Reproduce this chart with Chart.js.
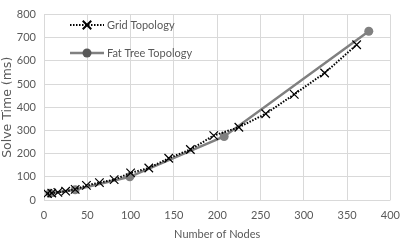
<!DOCTYPE html>
<html>
<head>
<meta charset="utf-8">
<script src="https://cdn.jsdelivr.net/npm/chart.js@4/dist/chart.umd.min.js"></script>
<style>
  html, body { margin: 0; padding: 0; background: #fff; }
  #wrap { width: 409px; height: 245px; position: relative; }
</style>
</head>
<body>
<div id="wrap"><canvas id="solve"></canvas></div>
<script>
// grid topology: n x n nodes
const grid_nodes = [4, 9, 16, 25, 36, 49, 64, 81, 100, 121, 144, 169, 196, 225, 256, 289, 324, 361]
const grid_time = [28, 30, 33, 38, 46, 63, 75, 88, 117, 138, 180, 218, 278, 314, 372, 456, 548, 670]

// fat tree topology
const fattree_nodes = [7, 36, 99, 208, 375]
const fattree_time = [29, 44, 100, 274, 728]

const x_ticks = [0, 50, 100, 150, 200, 250, 300, 350, 400]
const y_ticks = [0, 100, 200, 300, 400, 500, 600, 700, 800]

const FONT = 'Lato, "Open Sans", sans-serif'
const TEXT = '#595959'

// leyenda dibujada dentro del area del grafico
const innerLegend = {
    id: 'innerLegend',
    afterDraw(chart) {
        const ctx = chart.ctx
        const rows = [
            { y: 25, ds: chart.data.datasets[0] },
            { y: 53, ds: chart.data.datasets[1] }
        ]
        const x0 = 70, x1 = 104, xm = 87
        ctx.save()
        rows.forEach(r => {
            ctx.strokeStyle = r.ds.borderColor
            ctx.lineWidth = r.ds.borderWidth
            ctx.setLineDash(r.ds.borderDash || [])
            ctx.beginPath()
            ctx.moveTo(x0, r.y)
            ctx.lineTo(x1, r.y)
            ctx.stroke()
            ctx.setLineDash([])
            Chart.helpers.drawPoint(ctx, {
                pointStyle: r.ds.pointStyle,
                radius: r.ds.pointRadius,
                borderWidth: r.ds.pointBorderWidth
            }, xm, r.y)
            ctx.fillStyle = TEXT
            ctx.font = '11px ' + FONT
            ctx.textBaseline = 'middle'
            ctx.fillText(r.ds.label, x1 + 3, r.y)
        })
        ctx.restore()
    }
}

new Chart(document.getElementById('solve').getContext('2d'), {
    type: 'line',
    data: {
        datasets: [{
            label: 'Grid Topology',
            data: grid_nodes.map((n, i) => ({ x: n, y: grid_time[i] })),
            borderColor: '#000000',
            backgroundColor: '#000000',
            borderWidth: 2,
            borderDash: [1.5, 1.5],
            pointStyle: 'crossRot',
            pointRadius: 6,
            pointBorderWidth: 1.2,
            pointBorderColor: '#000000',
            tension: 0
        }, {
            label: 'Fat Tree Topology',
            data: fattree_nodes.map((n, i) => ({ x: n, y: fattree_time[i] })),
            borderColor: '#808080',
            backgroundColor: '#808080',
            borderWidth: 2.5,
            pointStyle: 'circle',
            pointRadius: 4.5,
            pointBorderWidth: 0,
            pointBorderColor: '#808080',
            tension: 0
        }]
    },
    options: {
        responsive: true,
        maintainAspectRatio: false,
        animation: false,
        layout: { padding: { top: 3, right: 16, left: 0, bottom: 0 } },
        scales: {
            x: {
                type: 'linear',
                min: 0,
                max: 400,
                afterBuildTicks: s => { s.ticks = x_ticks.map(v => ({ value: v })) },
                ticks: { color: TEXT, font: { family: FONT, size: 11 }, padding: 9 },
                grid: { color: '#d9d9d9', drawTicks: false },
                border: { display: false },
                title: { display: true, text: 'Number of Nodes', color: TEXT, font: { family: FONT, size: 11 }, padding: { top: 6 } },
                afterFit: s => { s.height = 45 }
            },
            y: {
                min: 0,
                max: 800,
                afterBuildTicks: s => { s.ticks = y_ticks.map(v => ({ value: v })) },
                ticks: { color: TEXT, font: { family: FONT, size: 11 }, padding: 8 },
                grid: { color: '#d9d9d9', drawTicks: false },
                border: { display: false },
                title: { display: true, text: 'Solve Time (ms)', color: TEXT, font: { family: 'DejaVu Sans', size: 12.5 }, padding: 0 },
                afterFit: s => { s.width = 44 }
            }
        },
        plugins: {
            legend: { display: false },
            tooltip: { enabled: false }
        }
    },
    plugins: [innerLegend]
});
</script>
</body>
</html>
